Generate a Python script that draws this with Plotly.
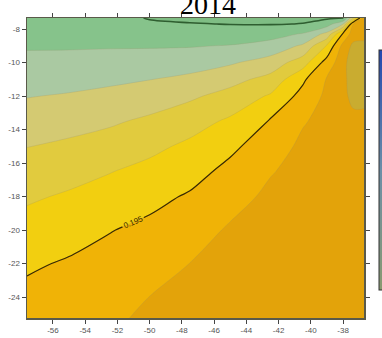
import plotly.graph_objects as go

# grid positions (longitude, latitude) and field values
lon = [-57.61, -55, -52.5, -50, -47.5, -45, -42.5, -40.5, -39, -38, -37.35, -36.7]
lat = [-7.34, -7.7, -8.3, -9, -10, -11, -12, -13.5, -15, -16.5, -18, -20, -22, -24, -25.25]
z_values = [
    [0.2184, 0.2184, 0.2183, 0.2203, 0.2208, 0.2208, 0.2208, 0.2207, 0.2206, 0.2205, 0.2050, 0.1885],
    [0.2178, 0.2178, 0.2177, 0.2193, 0.2198, 0.2201, 0.2202, 0.2199, 0.2175, 0.2101, 0.1895, 0.1885],
    [0.2167, 0.2167, 0.2166, 0.2175, 0.2178, 0.2177, 0.2169, 0.2146, 0.2084, 0.1940, 0.1875, 0.1870],
    [0.2155, 0.2155, 0.2154, 0.2154, 0.2153, 0.2148, 0.2131, 0.2093, 0.1995, 0.1885, 0.1838, 0.1835],
    [0.2137, 0.2135, 0.2132, 0.2128, 0.2121, 0.2106, 0.2079, 0.2023, 0.1929, 0.1870, 0.1815, 0.1815],
    [0.2120, 0.2116, 0.2109, 0.2101, 0.2089, 0.2066, 0.2034, 0.1959, 0.1896, 0.1870, 0.1815, 0.1815],
    [0.2102, 0.2096, 0.2088, 0.2076, 0.2058, 0.2033, 0.1994, 0.1933, 0.1890, 0.1870, 0.1828, 0.1828],
    [0.2076, 0.2068, 0.2057, 0.2041, 0.2020, 0.1992, 0.1946, 0.1904, 0.1886, 0.1875, 0.1872, 0.1872],
    [0.2051, 0.2041, 0.2029, 0.2012, 0.1990, 0.1960, 0.1924, 0.1890, 0.1882, 0.1878, 0.1872, 0.1870],
    [0.2029, 0.2017, 0.2002, 0.1986, 0.1967, 0.1937, 0.1903, 0.1885, 0.1877, 0.1875, 0.1872, 0.1868],
    [0.2007, 0.1994, 0.1980, 0.1963, 0.1945, 0.1918, 0.1890, 0.1880, 0.1871, 0.1870, 0.1868, 0.1866],
    [0.1981, 0.1969, 0.1952, 0.1939, 0.1922, 0.1894, 0.1884, 0.1874, 0.1865, 0.1865, 0.1865, 0.1864],
    [0.1957, 0.1945, 0.1934, 0.1919, 0.18996, 0.1887, 0.1877, 0.1867, 0.1862, 0.1862, 0.1862, 0.1862],
    [0.1938, 0.1928, 0.1917, 0.18996, 0.1890, 0.1880, 0.1870, 0.1862, 0.1860, 0.1860, 0.1860, 0.1860],
    [0.1928, 0.1917, 0.1906, 0.1894, 0.1885, 0.1875, 0.1865, 0.1860, 0.1860, 0.1860, 0.1860, 0.1860],
]

level_start = 0.185
level_end = 0.22
level_step = 0.005
labelled_level = 0.195
top_level = 0.22

band_colors = ["#C9AC30", "#E3A30A", "#F0B306", "#F2CF10", "#E1CB3E",
               "#D4CA72", "#AAC9A2", "#86C38B", "#7FBD84"]

x_tickvals = [-56, -54, -52, -50, -48, -46, -44, -42, -40, -38]
x_ticktext = ["-56", "-54", "-52", "-50", "-48", "-46", "-44", "-42", "-40", "-38"]
y_tickvals = [-8, -10, -12, -14, -16, -18, -20, -22, -24]
y_ticktext = ["-8", "-10", "-12", "-14", "-16", "-18", "-20", "-22", "-24"]

title_text = "2014"

n = len(band_colors)
colorscale = []
for i, c in enumerate(band_colors):
    colorscale.append([i / n, c])
    colorscale.append([(i + 1) / n, c])

zmin = level_start - level_step
zmax = level_end + level_step

fig = go.Figure()
fig.add_trace(go.Contour(
    x=lon, y=lat, z=z_values,
    colorscale=colorscale, zmin=zmin, zmax=zmax, zauto=False,
    contours=dict(start=level_start, end=level_end, size=level_step, coloring="fill"),
    line=dict(width=0.6, color="rgba(150,140,100,0.35)", smoothing=1.0),
    showscale=False, hoverinfo="skip",
))
fig.add_trace(go.Contour(
    x=lon, y=lat, z=z_values,
    contours=dict(start=labelled_level, end=labelled_level, size=level_step,
                  coloring="lines", showlabels=True,
                  labelfont=dict(size=8, color="#3a2a00", family="Liberation Sans")),
    colorscale=[[0, "#3a2a00"], [1, "#3a2a00"]],
    line=dict(width=1.2, smoothing=1.0),
    showscale=False, hoverinfo="skip",
))
fig.add_trace(go.Contour(
    x=lon, y=lat, z=z_values,
    contours=dict(start=top_level, end=top_level, size=level_step, coloring="lines"),
    colorscale=[[0, "#2E5E30"], [1, "#2E5E30"]],
    line=dict(width=1.6, smoothing=1.0),
    showscale=False, hoverinfo="skip",
))
# colour bar strip at right edge (mostly outside the view)
fig.add_trace(go.Scatter(
    x=[None], y=[None], mode="markers", showlegend=False, hoverinfo="skip",
    marker=dict(color=[0, 1], cmin=0, cmax=1,
                colorscale=[[0, "#8A9A70"], [0.5, "#6C8FA8"], [1, "#2448B0"]],
                showscale=True,
                colorbar=dict(x=1.045, xanchor="left", xpad=0, ypad=0,
                              y=0.493, yanchor="middle", len=0.8, lenmode="fraction",
                              thickness=20, outlinewidth=1, outlinecolor="#333",
                              showticklabels=False, ticks="")),
))

axis_common = dict(showline=True, linecolor="#5a5a4a", linewidth=1.5, mirror="ticks",
                   ticks="outside", ticklen=4, tickcolor="#444", tickwidth=1,
                   showgrid=False, zeroline=False,
                   tickfont=dict(size=8, color="#555", family="Liberation Sans"))
fig.update_xaxes(range=[-57.61, -36.7], tickvals=x_tickvals, ticktext=x_ticktext, **axis_common)
fig.update_yaxes(range=[-25.25, -7.34], tickvals=y_tickvals, ticktext=y_ticktext, **axis_common)

fig.add_annotation(text=title_text, xref="paper", yref="paper", x=0.5375, y=1.045,
                   xanchor="center", yanchor="middle", showarrow=False,
                   font=dict(size=28, family="Liberation Serif", color="#000"))

fig.update_layout(width=382, height=338,
                  margin=dict(l=27, r=18, t=18, b=20, autoexpand=False),
                  paper_bgcolor="white", plot_bgcolor="white", showlegend=False)

fig.write_html("out.html", config={"displayModeBar": False, "staticPlot": True},
               post_script="document.body.style.margin='0px';document.body.style.overflow='hidden';")
